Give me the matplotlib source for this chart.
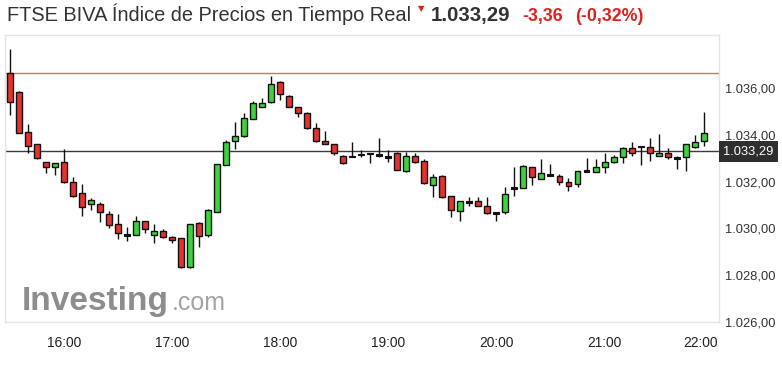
import matplotlib
matplotlib.use("Agg")
import matplotlib.pyplot as plt
import matplotlib.transforms as mtransforms
import pandas as pd
import numpy as np

plt.rcParams['font.family'] = ['Liberation Sans', 'DejaVu Sans']

# ---------------- data ----------------
title = "FTSE BIVA Índice de Precios en Tiempo Real"
last_price = 1033.29
change = -3.36
change_pct = -0.32
prev_close = 1036.65

start_time = "15:30"
n_candles = 78

opens = [1036.64, 1035.85, 1034.14, 1033.60, 1032.83, 1032.61, 1032.83, 1031.97, 1031.50, 1031.03,
         1031.03, 1030.60, 1030.17, 1029.74, 1029.71, 1030.31, 1029.73, 1029.88, 1029.64, 1029.57,
         1028.33, 1030.21, 1029.71, 1030.71, 1032.71, 1033.74, 1033.95, 1034.69, 1035.20, 1035.40,
         1036.28, 1035.68, 1035.18, 1034.93, 1034.28, 1033.74, 1033.60, 1033.11, 1033.11, 1033.17,
         1033.21, 1033.18, 1033.07, 1033.24, 1032.45, 1033.11, 1032.90, 1031.85, 1032.25, 1031.38,
         1030.74, 1031.14, 1031.18, 1030.96, 1030.67, 1030.69, 1031.76, 1031.74, 1032.61, 1032.12,
         1032.28, 1032.24, 1032.00, 1031.88, 1032.45, 1032.42, 1032.61, 1032.83, 1033.04, 1033.43,
         1033.52, 1033.47, 1033.11, 1033.21, 1033.02, 1033.04, 1033.47, 1033.74]
highs = [1037.68, 1035.87, 1034.47, 1033.62, 1032.85, 1032.80, 1033.40, 1032.21, 1031.90, 1031.28,
         1031.11, 1030.74, 1030.61, 1030.07, 1030.54, 1030.33, 1030.17, 1029.97, 1029.68, 1029.59,
         1030.19, 1030.26, 1030.82, 1032.76, 1033.78, 1034.57, 1034.95, 1035.47, 1035.57, 1036.52,
         1036.30, 1035.70, 1035.20, 1034.99, 1034.50, 1034.18, 1033.62, 1033.13, 1033.71, 1033.35,
         1033.22, 1033.88, 1033.35, 1033.26, 1033.26, 1033.24, 1032.97, 1032.31, 1032.27, 1031.40,
         1031.19, 1031.33, 1031.35, 1031.33, 1030.71, 1031.78, 1032.64, 1032.70, 1032.63, 1032.97,
         1032.75, 1032.31, 1032.14, 1032.47, 1033.00, 1032.96, 1033.21, 1033.14, 1033.49, 1033.71,
         1033.54, 1033.85, 1034.04, 1033.43, 1033.10, 1033.62, 1034.00, 1034.99]
lows = [1034.85, 1034.07, 1033.21, 1032.98, 1032.36, 1032.28, 1031.95, 1031.36, 1030.53, 1030.78,
        1030.28, 1030.03, 1029.54, 1029.46, 1029.70, 1029.81, 1029.36, 1029.60, 1029.36, 1028.31,
        1028.31, 1029.19, 1029.61, 1030.69, 1032.69, 1033.40, 1033.93, 1034.67, 1035.18, 1035.38,
        1035.50, 1035.19, 1034.75, 1034.26, 1033.68, 1033.60, 1033.14, 1032.76, 1033.04, 1033.07,
        1032.81, 1033.04, 1032.83, 1032.48, 1032.43, 1032.81, 1031.91, 1031.35, 1031.31, 1030.47,
        1030.31, 1030.96, 1030.94, 1030.62, 1030.31, 1030.61, 1031.38, 1031.72, 1031.85, 1032.10,
        1032.24, 1031.85, 1031.60, 1031.78, 1032.43, 1032.40, 1032.36, 1032.81, 1032.78, 1033.10,
        1032.71, 1032.88, 1033.09, 1032.98, 1032.54, 1032.45, 1033.45, 1033.52]
closes = [1035.40, 1034.09, 1033.52, 1033.00, 1032.61, 1032.78, 1031.97, 1031.38, 1030.90, 1031.22,
          1030.69, 1030.14, 1029.79, 1029.71, 1030.31, 1029.96, 1029.90, 1029.61, 1029.50, 1028.33,
          1030.17, 1029.66, 1030.80, 1032.74, 1033.71, 1033.97, 1034.71, 1035.35, 1035.38, 1036.17,
          1035.74, 1035.21, 1034.93, 1034.28, 1033.74, 1033.62, 1033.21, 1032.78, 1033.05, 1033.16,
          1033.20, 1033.11, 1033.06, 1032.50, 1033.11, 1032.83, 1031.93, 1032.18, 1031.33, 1030.78,
          1031.17, 1031.13, 1030.96, 1030.64, 1030.66, 1031.46, 1031.70, 1032.68, 1032.18, 1032.38,
          1032.27, 1031.97, 1031.82, 1032.45, 1032.44, 1032.61, 1032.84, 1033.05, 1033.43, 1033.21,
          1033.48, 1033.21, 1033.24, 1033.04, 1033.01, 1033.60, 1033.68, 1034.08]

xtick_hours = [16, 17, 18, 19, 20, 21, 22]
ytick_values = [1026, 1028, 1030, 1032, 1034, 1036]


def es_num(v):
    s = f"{v:,.2f}"
    return s.replace(",", "X").replace(".", ",").replace("X", ".")


# ---------------- figure ----------------
W, H, DPI = 782, 368, 100
fig = plt.figure(figsize=(W / DPI, H / DPI), dpi=DPI)
fig.patch.set_facecolor("white")

ax_l, ax_r, ax_t, ax_b = 4.5, 719, 35, 322
ax = fig.add_axes([ax_l / W, 1 - ax_b / H, (ax_r - ax_l) / W, (ax_b - ax_t) / H])

times = pd.date_range("2024-01-01 " + start_time, periods=n_candles, freq="5min")
x = np.array([t.hour + t.minute / 60 for t in times])
step = 5 / 60

RED = "#e3322f"
GREEN = "#3dd33d"

o = np.array(opens); h = np.array(highs); l = np.array(lows); c = np.array(closes)
ax.vlines(x, l, h, color="#111111", lw=1, zorder=2)
body_w = step * 0.66
for xi, oi, ci in zip(x, o, c):
    if abs(ci - oi) < 0.08:
        ax.bar(xi, 0.07, width=body_w, bottom=(oi + ci) / 2 - 0.035, color="#111111",
               edgecolor="#111111", lw=0.8, zorder=3)
    else:
        col = GREEN if ci > oi else RED
        ax.bar(xi, abs(ci - oi), width=body_w, bottom=min(oi, ci), color=col,
               edgecolor="#111111", lw=1, zorder=3)

ax.axhline(prev_close, color="#e26a6a", lw=1, zorder=1)
ax.axhline(last_price, color="#3a3a3a", lw=1, zorder=1)

ax.set_xlim(x[0] - 0.58 * step, x[0] + 78.7 * step)
ax.set_ylim(1028 - 47 / 23.35, 1028 + 240 / 23.35)

for s in ax.spines.values():
    s.set_color("#e4e4e4")
    s.set_linewidth(1)

ax.yaxis.tick_right()
ax.set_yticks(ytick_values)
ax.set_yticklabels([es_num(v) for v in ytick_values])
ax.set_xticks(xtick_hours)
ax.set_xticklabels([f"{hh}:00" for hh in xtick_hours])
ax.tick_params(axis="y", length=0, pad=4.5, labelsize=9.25, labelcolor="#333333")
ax.tick_params(axis="x", length=0, pad=9.8, labelsize=9.9, labelcolor="#222222")
# last time label is kept inside the plot edge
lab = ax.get_xticklabels()[-1]
lab.set_transform(lab.get_transform() + mtransforms.ScaledTranslation(-12 / DPI, 0, fig.dpi_scale_trans))

# current price box
trans = mtransforms.blended_transform_factory(ax.transAxes, ax.transData)
ax.text(1.0, last_price, es_num(last_price), transform=trans + mtransforms.ScaledTranslation(4.5 / DPI, 0, fig.dpi_scale_trans),
        ha="left", va="center", fontsize=9.25, color="white", clip_on=False,
        bbox=dict(boxstyle="square,pad=0.32", facecolor="#2e2e2e", edgecolor="none"))

# watermark logo
fig.text(22 / W, 1 - 310 / H, "Investing", fontsize=24, fontweight="bold", color="#8d8d8d",
         ha="left", va="baseline")
fig.text(172 / W, 1 - 309.5 / H, ".com", fontsize=18, color="#a3a3a3", ha="left", va="baseline")

# title row
fig.text(6.5 / W, 1 - 21.3 / H, title, fontsize=14.4, color="#333333", ha="left", va="baseline")
fig.text(421 / W, 1 - 9 / H, "▼", fontsize=6, color="#e0201e", ha="center", va="center", family="DejaVu Sans")
fig.text(431 / W, 1 - 20.7 / H, es_num(last_price), fontsize=14.7, fontweight="bold", color="#333333",
         ha="left", va="baseline")
fig.text(522.5 / W, 1 - 20.7 / H, es_num(change), fontsize=12.8, fontweight="bold", color="#e0201e",
         ha="left", va="baseline")
fig.text(575 / W, 1 - 20.7 / H, f"({es_num(change_pct)}%)", fontsize=12.8, fontweight="bold", color="#e0201e",
         ha="left", va="baseline")

fig.savefig("out.png", dpi=DPI, facecolor="white")
